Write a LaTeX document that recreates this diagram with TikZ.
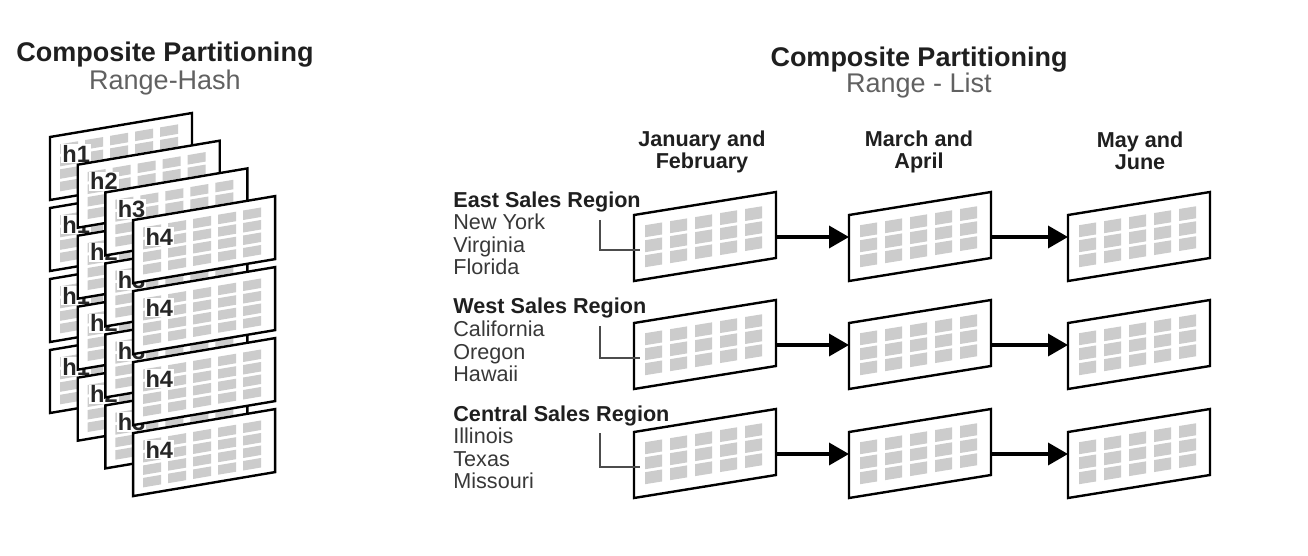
\documentclass[tikz,border=0pt]{standalone}
\usepackage{fontspec}
\setmainfont{Liberation Sans}
\usetikzlibrary{arrows.meta}

\tikzset{
  sheet/.style={draw=black, line width=1.2pt, fill=white},
  cell/.style={fill=black!20},
  title/.style={font=\bfseries\fontsize{13.5}{16}\selectfont, anchor=base, inner sep=0pt, text=black!88},
  subtitle/.style={font=\fontsize{13.5}{16}\selectfont, anchor=base, inner sep=0pt, text=black!62},
  head/.style={font=\bfseries\fontsize{10.8}{11}\selectfont, align=center, inner sep=0pt, text=black!88},
  region/.style={font=\bfseries\fontsize{10.8}{11}\selectfont, anchor=base west, inner sep=0pt, text=black!88},
  member/.style={font=\fontsize{10.8}{11}\selectfont, anchor=base west, inner sep=0pt, text=black!78},
  hlabel/.style={font=\bfseries\fontsize{11.8}{13}\selectfont, anchor=base west, inner sep=0.5pt, fill=white, text=black!85},
  flow/.style={line width=1.8pt, -{Triangle[length=10pt,width=11pt]}},
  bracket/.style={line width=0.65pt, black!70}
}

% hash sheet: x, y, node name, label
\newcommand{\hashsheet}[4]{%
  \begin{scope}[shift={(#1,#2)}, yslant=0.169]
    \filldraw[sheet] (0,0) rectangle (142,63);
    \foreach \i in {0,...,4}
      \foreach \j in {0,...,3}
        \fill[cell] (10+25*\i,9+12.5*\j) rectangle ++(18,9.5);
    \node[hlabel] (#3) at (11,27) {#4};
  \end{scope}}

% list sheet: x, y, name
\newcommand{\listsheet}[3]{%
  \begin{scope}[shift={(#1,#2)}, yslant=0.162]
    \filldraw[sheet] (0,0) rectangle (142,66);
    \foreach \i in {0,...,4}
      \foreach \j in {0,...,2}
        \fill[cell] (11+25*\i,12+15*\j) rectangle ++(17,12);
    \coordinate (#3-in) at (0,22);
    \coordinate (#3-out) at (142,45);
    \coordinate (#3-tap) at (6,36);
  \end{scope}}

\begin{document}
\begin{tikzpicture}[x=0.5pt, y=-0.5pt] % 2 blocks of sheets
   \useasboundingbox (0,0) rectangle (1308,556);

   % range-hash
   \node[title] (lt) at (165,62) {Composite Partitioning};
   \node[subtitle] (ls) at (165,90) {Range-Hash};
   \foreach \k [count=\n] in {0,...,3}
     \foreach \r in {0,...,3}
       \hashsheet{50+27.7*\k}{137+27.7*\k+71*\r}{h\n\r}{h\n};

   % range-list
   \node[title] (rt) at (919,67) {Composite Partitioning};
   \node[subtitle] (rs) at (919,93) {Range - List};
   \node[head] (hd1) at (702,152) {January and\\February};
   \node[head] (hd2) at (919,152) {March and\\April};
   \node[head] (hd3) at (1140,151) {May and\\June};

   \node[region] (er) at (453,207) {East Sales Region};
   \node[member] (e1) at (453,229.5) {New York};
   \node[member] (e2) at (453,252) {Virginia};
   \node[member] (e3) at (453,274) {Florida};
   \node[region] (wr) at (453,314) {West Sales Region};
   \node[member] (w1) at (453,336.5) {California};
   \node[member] (w2) at (453,359) {Oregon};
   \node[member] (w3) at (453,381) {Hawaii};
   \node[region] (cr) at (453,421) {Central Sales Region};
   \node[member] (c1) at (453,443.5) {Illinois};
   \node[member] (c2) at (453,466) {Texas};
   \node[member] (c3) at (453,488) {Missouri};

   \foreach \y [count=\r] in {215,323,432} {
     \listsheet{634}{\y}{t\r1}
     \listsheet{849}{\y}{t\r2}
     \listsheet{1068}{\y}{t\r3}
   }
   \draw[flow] (t11-out) -- (t12-in);
   \draw[flow] (t12-out) -- (t13-in);
   \draw[flow] (t21-out) -- (t22-in);
   \draw[flow] (t22-out) -- (t23-in);
   \draw[flow] (t31-out) -- (t32-in);
   \draw[flow] (t32-out) -- (t33-in);

   \coordinate (eb) at (600,220);
   \coordinate (wb) at (600,326);
   \coordinate (cb) at (600,433);
   \draw[bracket] (eb) |- (t11-tap);
   \draw[bracket] (wb) |- (t21-tap);
   \draw[bracket] (cb) |- (t31-tap);
\end{tikzpicture}
\end{document}
